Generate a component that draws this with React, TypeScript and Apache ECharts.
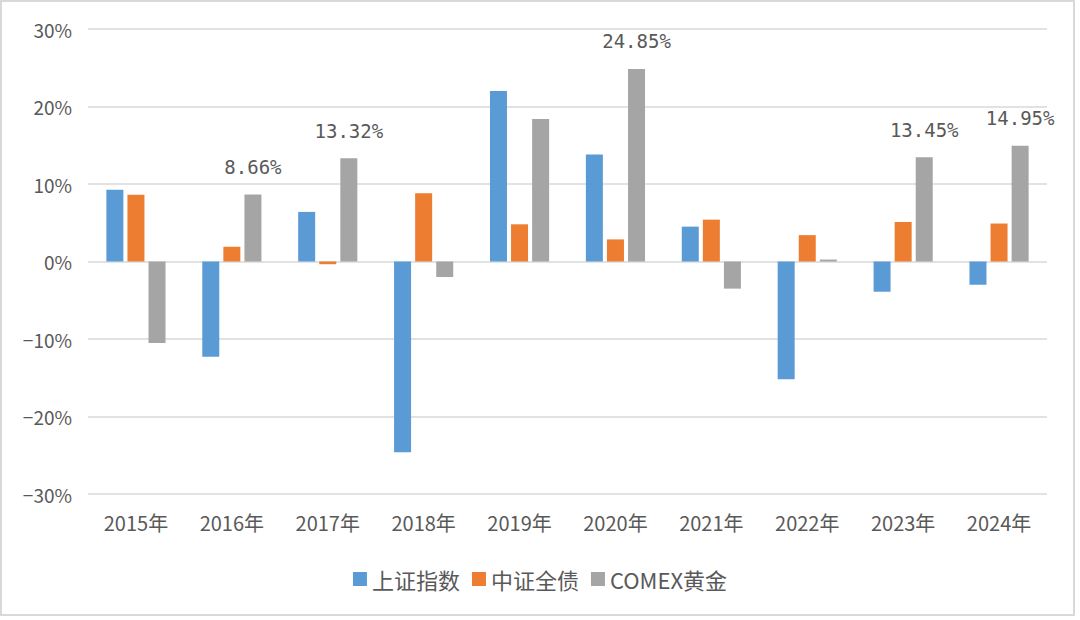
import React, { useEffect, useRef } from "react";
import * as echarts from "echarts";

const categories = ["2015年", "2016年", "2017年", "2018年", "2019年", "2020年", "2021年", "2022年", "2023年", "2024年"];
const seriesNames = ["上证指数", "中证全债", "COMEX黄金"];
const shanghaiIndex = [9.25, -12.3, 6.4, -24.6, 22.0, 13.8, 4.5, -15.2, -3.9, -3.0];
const chinaBond = [8.6, 1.9, -0.35, 8.8, 4.8, 2.85, 5.4, 3.4, 5.1, 4.9];
const comexGold = [-10.5, 8.66, 13.32, -2.0, 18.4, 24.85, -3.5, 0.25, 13.45, 14.95];
const goldLabeled = [false, true, true, false, false, true, false, false, true, true];
const yTicks = { min: -30, max: 30, interval: 10 };

const colors = ["#5b9bd5", "#ed7d31", "#a5a5a5"];
const FONT = "'Noto Sans CJK SC', 'Noto Sans', sans-serif";

export default function App() {
  const ref = useRef<HTMLDivElement>(null);
  useEffect(() => {
    if (!ref.current) return;
    const chart = echarts.init(ref.current, undefined, { renderer: "svg" });
    const barCommon = {
      type: "bar",
      barWidth: 17,
      barGap: "24%",
    };
    chart.setOption({
      animation: false,
      backgroundColor: "#ffffff",
      color: colors,
      textStyle: { fontFamily: FONT },
      graphic: [
        {
          type: "rect",
          shape: { x: 1, y: 1, width: 1073, height: 614 },
          style: { fill: "none", stroke: "#d9d9d9", lineWidth: 2 },
          silent: true,
        },
      ],
      grid: { left: 88, right: 33, top: 29, bottom: 126, containLabel: false },
      legend: {
        data: seriesNames,
        left: "center",
        top: 563,
        icon: "rect",
        itemWidth: 14,
        itemHeight: 14,
        itemGap: 12,
        textStyle: { fontSize: 22, color: "#595959", fontFamily: FONT },
      },
      xAxis: {
        type: "category",
        data: categories,
        axisLine: { show: false },
        axisTick: { show: false },
        axisLabel: { fontSize: 20, color: "#595959", margin: 18, fontFamily: FONT, interval: 0 },
      },
      yAxis: {
        type: "value",
        min: yTicks.min,
        max: yTicks.max,
        interval: yTicks.interval,
        axisLine: { show: false },
        axisTick: { show: false },
        splitLine: { lineStyle: { color: "#d9d9d9", width: 1.5 } },
        axisLabel: {
          fontSize: 19,
          color: "#595959",
          margin: 16,
          fontFamily: FONT,
          formatter: (v: number) => (v < 0 ? "\u2212" + Math.abs(v) : String(v)) + "%",
        },
      },
      series: [
        { ...barCommon, name: seriesNames[0], data: shanghaiIndex },
        { ...barCommon, name: seriesNames[1], data: chinaBond },
        {
          ...barCommon,
          name: seriesNames[2],
          data: comexGold.map((v, i) => ({
            value: v,
            label: {
              show: goldLabeled[i],
              position: "top",
              distance: 18,
              fontSize: 19,
              color: "#595959",
              fontFamily: "'DejaVu Sans Mono', monospace",
              formatter: (p: any) => Number(p.value).toFixed(2) + "%",
            },
          })),
        },
      ],
    });
    return () => chart.dispose();
  }, []);
  return (
    <div
      ref={ref}
      style={{ position: "absolute", left: 0, top: 0, width: 1080, height: 620 }}
    />
  );
}
